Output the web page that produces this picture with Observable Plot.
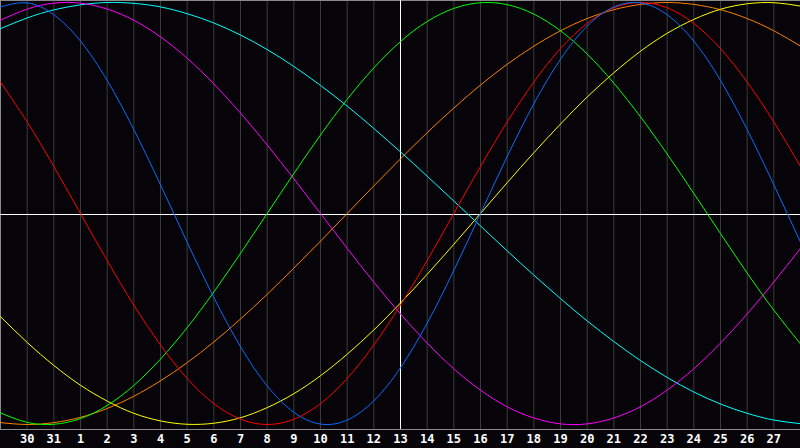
<!DOCTYPE html>
<html>
<head>
<meta charset="utf-8">
<script src="https://cdn.jsdelivr.net/npm/d3@7"></script>
<script src="https://cdn.jsdelivr.net/npm/@observablehq/plot@0.6"></script>
<style>
  html, body { margin: 0; padding: 0; background: #060408; overflow: hidden; }
  #chart { width: 800px; height: 448px; }
</style>
</head>
<body>
<div id="chart"></div>
<script>
// Day labels on the ticks (index 1..29); index 0 = 29th, index 30 = 28th
const dayLabels = ["30","31","1","2","3","4","5","6","7","8","9","10","11","12","13","14","15","16","17","18","19","20","21","22","23","24","25","26","27"];
const dayIndex = [0,1,2,3,4,5,6,7,8,9,10,11,12,13,14,15,16,17,18,19,20,21,22,23,24,25,26,27,28,29,30];
const todayIndex = 15;

// Cycle values read at each day line
const physical     = [0.979,0.998,0.942,0.817,0.631,0.398,0.136,-0.136,-0.398,-0.631,-0.817,-0.942,-0.998,-0.979,-0.888,-0.731,-0.520,-0.270,0,0.270,0.520,0.731,0.888,0.979,0.998,0.942,0.817,0.631,0.398,0.136,-0.136];
const emotional    = [0.623,0.434,0.223,0,-0.223,-0.434,-0.623,-0.782,-0.901,-0.975,-1.000,-0.975,-0.901,-0.782,-0.623,-0.434,-0.223,0,0.223,0.434,0.623,0.782,0.901,0.975,1.000,0.975,0.901,0.782,0.623,0.434,0.223];
const intellectual = [-0.945,-0.990,-0.999,-0.972,-0.910,-0.815,-0.690,-0.541,-0.372,-0.189,0,0.189,0.372,0.541,0.690,0.815,0.910,0.972,0.999,0.990,0.945,0.866,0.756,0.618,0.458,0.282,0.095,-0.095,-0.282,-0.458,-0.618];
const intuitive    = [0.916,0.969,0.997,0.997,0.969,0.916,0.837,0.736,0.614,0.476,0.325,0.165,0,-0.165,-0.325,-0.476,-0.614,-0.736,-0.837,-0.916,-0.969,-0.997,-0.997,-0.969,-0.916,-0.837,-0.736,-0.614,-0.476,-0.325,-0.165];
const aesthetic    = [-0.489,-0.611,-0.720,-0.814,-0.889,-0.947,-0.983,-0.999,-0.994,-0.968,-0.920,-0.854,-0.769,-0.667,-0.552,-0.424,-0.288,-0.146,0,0.146,0.288,0.424,0.552,0.667,0.769,0.854,0.920,0.968,0.994,0.999,0.983];
const awareness    = [-0.991,-1.000,-0.991,-0.966,-0.924,-0.866,-0.793,-0.707,-0.609,-0.500,-0.383,-0.259,-0.131,0,0.131,0.259,0.383,0.500,0.609,0.707,0.793,0.866,0.924,0.966,0.991,1.000,0.991,0.966,0.924,0.866,0.793];
const spiritual    = [0.876,0.927,0.965,0.989,1.000,0.996,0.979,0.947,0.903,0.846,0.777,0.697,0.607,0.509,0.403,0.292,0.177,0.059,-0.059,-0.177,-0.292,-0.403,-0.509,-0.607,-0.697,-0.777,-0.846,-0.903,-0.947,-0.979,-0.996];

const seriesNames  = ["awareness","aesthetic","spiritual","intuitive","intellectual","emotional","physical"];
const seriesValues = [awareness, aesthetic, spiritual, intuitive, intellectual, emotional, physical];
const seriesColors = ["#ff8000","#ffff00","#00ffff","#ff00ff","#00ff00","#ff0000","#0a6cff"];

const rows = [];
seriesNames.forEach((name, s) => {
  seriesValues[s].forEach((v, i) => rows.push({series: name, day: dayIndex[i], value: v}));
});
const tickIdx = dayIndex.slice(1, 30);

const yMin = -1.0237, yMax = 1.0095;

const chart = Plot.plot({
  width: 800,
  height: 448,
  marginLeft: 0,
  marginRight: 0,
  marginTop: 0,
  marginBottom: 19,
  x: {domain: [0, 30], axis: null},
  y: {domain: [yMin, yMax], axis: null},
  color: {domain: seriesNames, range: seriesColors},
  style: {background: "#060408", color: "white", fontFamily: "DejaVu Sans Mono", overflow: "visible"},
  marks: [
    Plot.ruleX(tickIdx, {x: d => d, stroke: "#3c3c3c", strokeWidth: 1}),
    Plot.ruleX([0], {stroke: "#8a8a8a"}),
    Plot.ruleY([yMax], {stroke: "#8a8a8a"}),
    Plot.ruleY([yMin], {stroke: "#8a8a8a"}),
    Plot.ruleY([0], {stroke: "#ffffff", dy: 1}),
    Plot.ruleX([todayIndex], {stroke: "#ffffff"}),
    Plot.line(rows, {x: "day", y: "value", z: "series", stroke: "series", strokeWidth: 1, curve: "natural"}),
    Plot.text(tickIdx, {
      x: d => d,
      text: d => dayLabels[d - 1],
      frameAnchor: "bottom",
      lineAnchor: "top",
      dy: 5,
      fill: "white",
      fontSize: 12,
      fontWeight: "bold",
      fontFamily: "DejaVu Sans Mono"
    })
  ]
});
document.getElementById("chart").appendChild(chart);
</script>
</body>
</html>
